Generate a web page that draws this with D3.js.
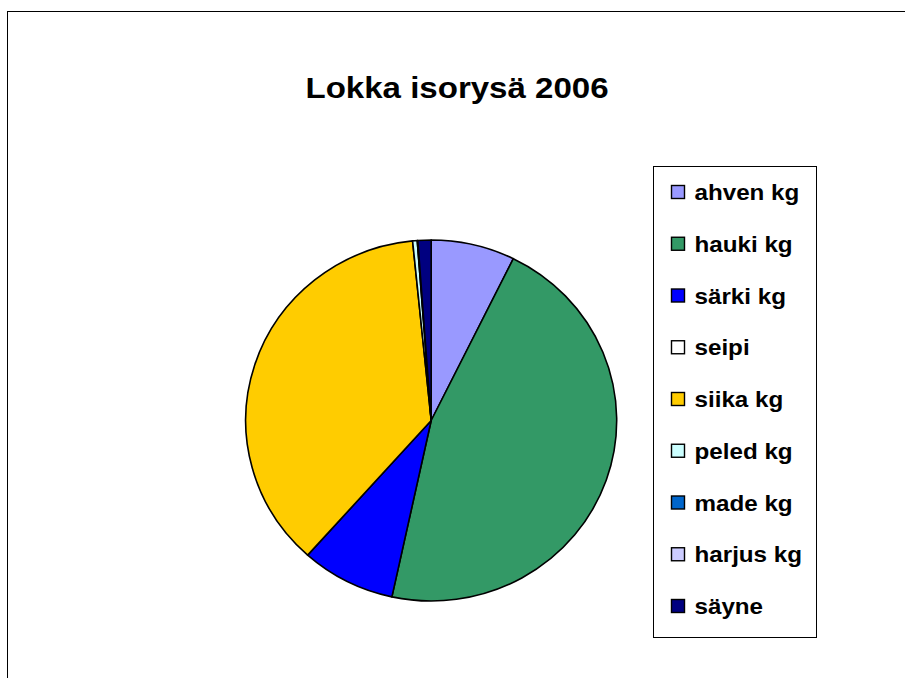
<!DOCTYPE html>
<html>
<head>
<meta charset="utf-8">
<script src="https://cdn.jsdelivr.net/npm/d3@7"></script>
<style>
  html, body { margin: 0; padding: 0; background: #fff; }
  svg { display: block; }
  text { font-family: "Liberation Sans", Arial, sans-serif; font-weight: bold; fill: #000; }
</style>
</head>
<body>
<svg id="chart" width="905" height="678"></svg>
<script>
const title = "Lokka isorysä 2006";
const categories = ["ahven kg", "hauki kg", "särki kg", "seipi", "siika kg", "peled kg", "made kg", "harjus kg", "säyne"];
const values = [7.3, 46.1, 8.2, 0, 36.8, 0.4, 0.05, 0.0, 1.15];
const colors = ["#9999FF", "#339966", "#0000FF", "#FFFFFF", "#FFCC00", "#CCFFFF", "#0066CC", "#CCCCFF", "#000080"];

const svg = d3.select("#chart");
const W = 905, H = 678;

// outer chart-area border
svg.append("rect")
  .attr("x", 7.5).attr("y", 11.5)
  .attr("width", W + 20).attr("height", H + 20)
  .attr("fill", "#fff").attr("stroke", "#000").attr("stroke-width", 1);

// title
svg.append("text")
  .attr("transform", "translate(457,98) scale(1.14,1)")
  .attr("text-anchor", "middle")
  .attr("font-size", 29)
  .text(title);

// pie
const cx = 431.2, cy = 420.5, rx = 185.5, ry = 180.5;
const data = categories.map((c, i) => ({ name: c, value: values[i], color: colors[i] }));
const pie = d3.pie().value(d => d.value).sort(null);
const arc = d3.arc().innerRadius(0).outerRadius(rx);
const g = svg.append("g").attr("transform", `translate(${cx},${cy}) scale(1,${ry / rx})`);
g.selectAll("path")
  .data(pie(data).filter(d => d.data.value > 0))
  .join("path")
  .attr("d", arc)
  .attr("fill", d => d.data.color)
  .attr("stroke", "#000")
  .attr("stroke-width", 1.6)
  .attr("stroke-linejoin", "round")
  .attr("vector-effect", "non-scaling-stroke");

// legend
const legX = 653, legY = 166, legW = 163, legH = 471;
svg.append("rect")
  .attr("x", legX + 0.5).attr("y", legY + 0.5)
  .attr("width", legW).attr("height", legH)
  .attr("fill", "#fff").attr("stroke", "#000").attr("stroke-width", 1);

const yScale = d3.scalePoint().domain(categories).range([192, 606]);
const items = svg.append("g").selectAll("g").data(data).join("g")
  .attr("transform", d => `translate(0,${yScale(d.name)})`);
items.append("rect")
  .attr("x", 671.5).attr("y", -6.5)
  .attr("width", 13).attr("height", 13)
  .attr("fill", d => d.color)
  .attr("stroke", "#000").attr("stroke-width", 1.4);
items.append("text")
  .attr("transform", "translate(694.5,8) scale(1.1,1)")
  .attr("font-size", 22)
  .text(d => d.name);
</script>
</body>
</html>
